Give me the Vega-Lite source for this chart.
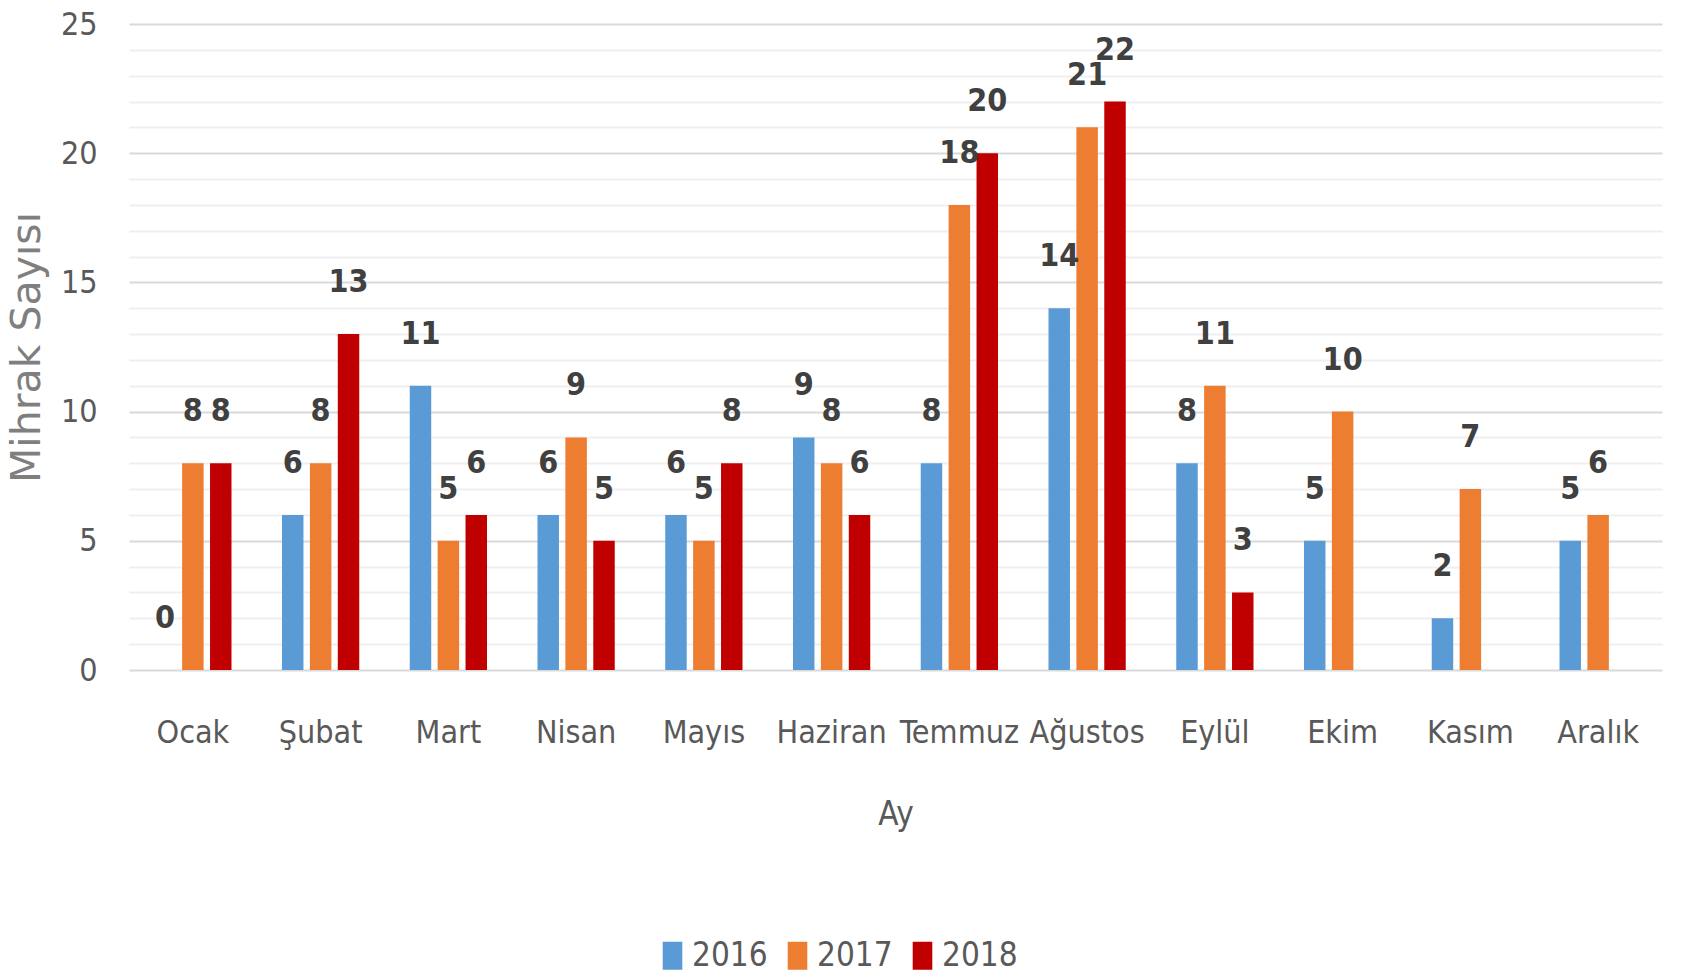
{
  "$schema": "https://vega.github.io/schema/vega-lite/v6.json",
  "autosize": "none",
  "width": 1533,
  "height": 646,
  "padding": {"left": 129, "top": 24, "right": 22, "bottom": 307},
  "background": "white",
  "config": {"view": {"stroke": null}},
  "data": {"values": [
    {"ay": "Ocak", "yil": "2016", "sayi": 0},
    {"ay": "Ocak", "yil": "2017", "sayi": 8},
    {"ay": "Ocak", "yil": "2018", "sayi": 8},
    {"ay": "Şubat", "yil": "2016", "sayi": 6},
    {"ay": "Şubat", "yil": "2017", "sayi": 8},
    {"ay": "Şubat", "yil": "2018", "sayi": 13},
    {"ay": "Mart", "yil": "2016", "sayi": 11},
    {"ay": "Mart", "yil": "2017", "sayi": 5},
    {"ay": "Mart", "yil": "2018", "sayi": 6},
    {"ay": "Nisan", "yil": "2016", "sayi": 6},
    {"ay": "Nisan", "yil": "2017", "sayi": 9},
    {"ay": "Nisan", "yil": "2018", "sayi": 5},
    {"ay": "Mayıs", "yil": "2016", "sayi": 6},
    {"ay": "Mayıs", "yil": "2017", "sayi": 5},
    {"ay": "Mayıs", "yil": "2018", "sayi": 8},
    {"ay": "Haziran", "yil": "2016", "sayi": 9},
    {"ay": "Haziran", "yil": "2017", "sayi": 8},
    {"ay": "Haziran", "yil": "2018", "sayi": 6},
    {"ay": "Temmuz", "yil": "2016", "sayi": 8},
    {"ay": "Temmuz", "yil": "2017", "sayi": 18},
    {"ay": "Temmuz", "yil": "2018", "sayi": 20},
    {"ay": "Ağustos", "yil": "2016", "sayi": 14},
    {"ay": "Ağustos", "yil": "2017", "sayi": 21},
    {"ay": "Ağustos", "yil": "2018", "sayi": 22},
    {"ay": "Eylül", "yil": "2016", "sayi": 8},
    {"ay": "Eylül", "yil": "2017", "sayi": 11},
    {"ay": "Eylül", "yil": "2018", "sayi": 3},
    {"ay": "Ekim", "yil": "2016", "sayi": 5},
    {"ay": "Ekim", "yil": "2017", "sayi": 10},
    {"ay": "Kasım", "yil": "2016", "sayi": 2},
    {"ay": "Kasım", "yil": "2017", "sayi": 7},
    {"ay": "Aralık", "yil": "2016", "sayi": 5},
    {"ay": "Aralık", "yil": "2017", "sayi": 6}
  ]},
  "encoding": {
    "x": {
      "field": "ay", "type": "nominal",
      "sort": ["Ocak", "Şubat", "Mart", "Nisan", "Mayıs", "Haziran", "Temmuz", "Ağustos", "Eylül", "Ekim", "Kasım", "Aralık"],
      "scale": {"paddingInner": 0, "paddingOuter": 0},
      "axis": {
        "title": "Ay",
        "titleFont": "DejaVu Sans Condensed, Liberation Sans, sans-serif", "titleFontSize": 33, "titleFontWeight": "normal", "titleColor": "#595959",
        "titleY": 144, "titleBaseline": "middle",
        "labelFont": "DejaVu Sans Condensed, Liberation Sans, sans-serif", "labelFontSize": 32, "labelColor": "#595959",
        "labelAngle": 0, "labelPadding": 47, "labelBaseline": "top",
        "ticks": false, "domain": false, "grid": false
      }
    },
    "xOffset": {"field": "yil", "type": "nominal", "scale": {"paddingInner": 0.23, "paddingOuter": 0.905}},
    "y": {
      "field": "sayi", "type": "quantitative",
      "scale": {"domain": [0, 25], "nice": false},
      "axis": {
        "title": "Mihrak Sayısı",
        "titleFont": "DejaVu Sans, sans-serif", "titleFontSize": 41, "titleFontWeight": "normal", "titleColor": "#7f7f7f",
        "titleX": -102, "titleY": 323, "titleAngle": 270, "titleBaseline": "middle", "titleAlign": "center",
        "values": [0,1,2,3,4,5,6,7,8,9,10,11,12,13,14,15,16,17,18,19,20,21,22,23,24,25],
        "labelExpr": "datum.value % 5 === 0 ? datum.label : ''",
        "labelFont": "DejaVu Sans Condensed, Liberation Sans, sans-serif", "labelFontSize": 32, "labelColor": "#595959",
        "labelPadding": 32, "ticks": false, "domain": false,
        "grid": true,
        "gridColor": {"condition": {"test": "datum.value % 5 === 0", "value": "#d9d9d9"}, "value": "#efefef"},
        "gridWidth": 2
      }
    }
  },
  "layer": [
    {
      "mark": {"type": "bar"},
      "encoding": {
        "color": {
          "field": "yil", "type": "nominal",
          "scale": {"domain": ["2016", "2017", "2018"], "range": ["#5B9BD5", "#ED7D31", "#C00000"]},
          "legend": {
            "title": null, "orient": "none", "direction": "horizontal",
            "legendX": 527, "legendY": 915,
            "symbolType": "M-0.7,-1H0.7V1H-0.7Z", "symbolSize": 784, "symbolStrokeWidth": 0,
            "labelFont": "DejaVu Sans Condensed, Liberation Sans, sans-serif", "labelFontSize": 33, "labelColor": "#595959",
            "labelOffset": 3, "columnPadding": 13
          }
        }
      }
    },
    {
      "mark": {"type": "text", "dy": -52, "baseline": "middle", "align": "center",
               "font": "DejaVu Sans Condensed, Liberation Sans, sans-serif", "fontSize": 32, "fontWeight": "bold", "color": "#404040"},
      "encoding": {"text": {"field": "sayi", "type": "quantitative"}}
    }
  ]
}
